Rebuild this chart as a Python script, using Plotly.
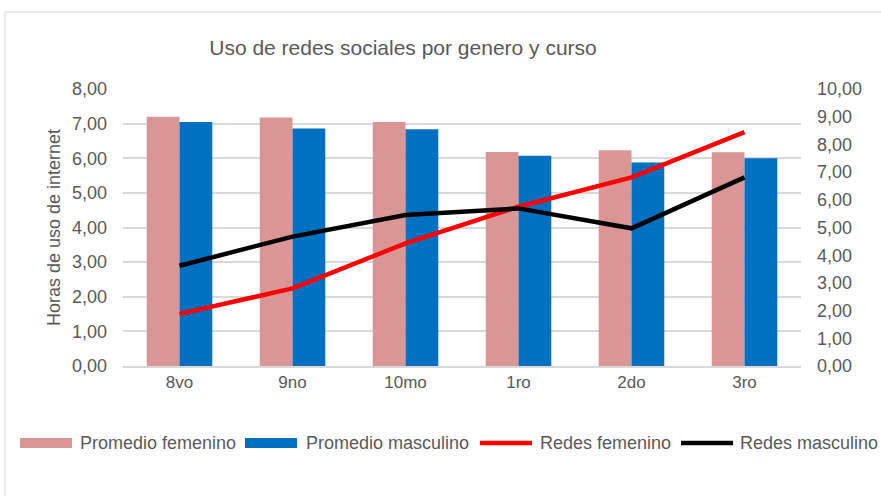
import plotly.graph_objects as go

cursos = ["8vo", "9no", "10mo", "1ro", "2do", "3ro"]
promedio_femenino = [7.20, 7.18, 7.05, 6.18, 6.23, 6.17]
promedio_masculino = [7.05, 6.86, 6.84, 6.07, 5.88, 6.00]
redes_femenino = [1.88, 2.80, 4.43, 5.75, 6.81, 8.44]
redes_masculino = [3.62, 4.67, 5.45, 5.69, 4.97, 6.81]

font_family = "Arial, Liberation Sans, sans-serif"
gray = "#595959"
c_fem = "#D99694"
c_masc = "#0070C0"
c_rf = "#FF0000"
c_rm = "#000000"

W, H = 881, 496
L, R, T, B = 123, 80, 89, 130
PW, PH = W - L - R, H - T - B


def px(x):
    return (x - L) / PW


def py(y):
    return (H - B - y) / PH


fig = go.Figure()
fig.add_trace(go.Bar(x=cursos, y=promedio_femenino, name="Promedio femenino",
                     marker=dict(color=c_fem, line=dict(width=0))))
fig.add_trace(go.Bar(x=cursos, y=promedio_masculino, name="Promedio masculino",
                     marker=dict(color=c_masc, line=dict(width=0))))
fig.add_trace(go.Scatter(x=cursos, y=redes_femenino, name="Redes femenino", yaxis="y2",
                         mode="lines", line=dict(color=c_rf, width=4.5)))
fig.add_trace(go.Scatter(x=cursos, y=redes_masculino, name="Redes masculino", yaxis="y2",
                         mode="lines", line=dict(color=c_rm, width=4.5)))

fig.update_layout(
    width=W, height=H,
    margin=dict(l=L, r=R, t=T, b=B),
    paper_bgcolor="white", plot_bgcolor="white",
    separators=",.",
    font=dict(family=font_family, size=18, color=gray),
    title=dict(text="Uso de redes sociales por genero y curso", x=403 / W, xanchor="center",
               y=1 - 48 / H, yanchor="middle", font=dict(size=21, color=gray)),
    barmode="group", bargap=0.42, bargroupgap=0,
    xaxis=dict(showgrid=False, showline=True, linecolor="#D9D9D9", linewidth=1.5,
               ticks="", tickfont=dict(size=17, color=gray)),
    yaxis=dict(range=[0, 8], dtick=1, tickformat=".2f", showgrid=True, gridcolor="#D9D9D9",
               gridwidth=1.5, zeroline=False, showline=False, ticks="",
               ticklabelstandoff=15,
               tickfont=dict(size=18, color=gray),
               title=dict(text="Horas de uso de internet", font=dict(size=18, color=gray), standoff=6)),
    yaxis2=dict(range=[0, 10], dtick=1, tickformat=".2f", overlaying="y", side="right",
                showgrid=False, zeroline=False, showline=False, ticks="",
                ticklabelstandoff=15,
                tickfont=dict(size=18, color=gray)),
    showlegend=False,
)

# chart border
fig.add_shape(type="rect", xref="paper", yref="paper",
              x0=px(5), x1=px(W + 20), y0=py(H + 20), y1=py(12),
              line=dict(color="#D9D9D9", width=1), fillcolor="rgba(0,0,0,0)", layer="below")

# custom legend
leg_y = 443
legend_items = [
    ("bar", c_fem, 20, 72, 78, "Promedio femenino"),
    ("bar", c_masc, 245, 297, 304, "Promedio masculino"),
    ("line", c_rf, 480, 532, 538, "Redes femenino"),
    ("line", c_rm, 681, 733, 738, "Redes masculino"),
]
for kind, color, x0, x1, xt, label in legend_items:
    if kind == "bar":
        fig.add_shape(type="rect", xref="paper", yref="paper",
                      x0=px(x0), x1=px(x1), y0=py(leg_y + 5), y1=py(leg_y - 5),
                      line=dict(width=0), fillcolor=color)
    else:
        fig.add_shape(type="line", xref="paper", yref="paper",
                      x0=px(x0), x1=px(x1), y0=py(leg_y), y1=py(leg_y),
                      line=dict(color=color, width=4.5))
    fig.add_annotation(x=px(xt), y=py(leg_y), xref="paper", yref="paper",
                       text=label, showarrow=False, xanchor="left", yanchor="middle",
                       font=dict(size=18, color=gray))

fig.write_html("out.html", config={"displayModeBar": False},
               post_script="document.body.style.margin='0';")
